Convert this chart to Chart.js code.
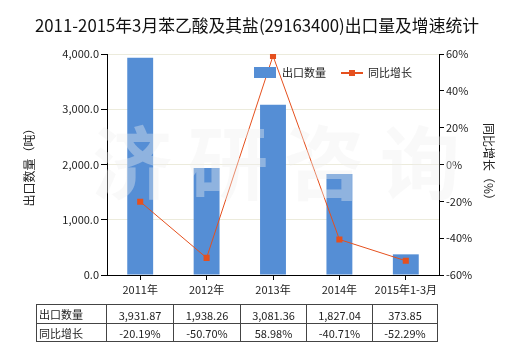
<!DOCTYPE html>
<html>
<head>
<meta charset="utf-8">
<script src="https://cdn.jsdelivr.net/npm/chart.js@4.4.1/dist/chart.umd.min.js"></script>
<style>
  html, body { margin: 0; padding: 0; background: #fff; }
  #wrap { position: relative; width: 520px; height: 350px; overflow: hidden;
          font-family: "Noto Sans CJK SC", "Microsoft YaHei", sans-serif; color: #222; }
  #c { position: absolute; left: 0; top: 0; }
  #title { position: absolute; left: 0; top: 13px; width: 514px; text-align: center;
           font-size: 16.8px; line-height: 24px; white-space: nowrap; color: #111; }
  #legend { position: absolute; left: 0; top: 0; font-size: 11px; }
  .lg { position: absolute; white-space: nowrap; line-height: 14px; }
  #wm { position: absolute; left: 92px; top: 108px; font-size: 80px; line-height: 100px;
        letter-spacing: 16px; font-weight: bold; color: rgba(240,240,240,0.38);
        pointer-events: none; white-space: nowrap; }
  table { position: absolute; left: 36px; top: 304px; border-collapse: collapse;
          font-size: 11px; color: #222; }
  td { border: 1px solid #444; padding: 0; text-align: center; white-space: nowrap; }
  td.h { text-align: left; padding-left: 2px; }
</style>
</head>
<body>
<div id="wrap">
  <canvas id="c" width="520" height="350"></canvas>
  <div id="title">2011-2015年3月苯乙酸及其盐(29163400)出口量及增速统计</div>
  <div id="wm">济研咨询</div>
  <div id="legend"></div>
  <table id="tbl"></table>
</div>
<script>
const categories = ['2011年', '2012年', '2013年', '2014年', '2015年1-3月'];
const exportQty = [3931.87, 1938.26, 3081.36, 1827.04, 373.85];
const growth = [-20.19, -50.70, 58.98, -40.71, -52.29];
const seriesNames = ['出口数量', '同比增长'];
const leftAxisTitle = '出口数量（吨）';
const rightAxisTitle = '同比增长（%）';

const BAR = '#558ED5';
const LINE = '#E5501E';
const FONT = '"Noto Sans CJK SC", "Microsoft YaHei", sans-serif';
Chart.defaults.font.family = FONT;
Chart.defaults.font.size = 11;
Chart.defaults.color = '#222';

new Chart(document.getElementById('c'), {
  type: 'bar',
  data: {
    labels: categories,
    datasets: [
      { type: 'line', label: seriesNames[1], data: growth, yAxisID: 'y1', order: 0,
        borderColor: LINE, backgroundColor: LINE, borderWidth: 1, tension: 0,
        pointStyle: 'rect', pointRadius: 4.3, pointBackgroundColor: LINE, pointBorderWidth: 0 },
      { type: 'bar', label: seriesNames[0], data: exportQty, yAxisID: 'y', order: 1,
        backgroundColor: BAR, categoryPercentage: 1, barPercentage: 0.39 }
    ]
  },
  options: {
    responsive: false, animation: false,
    layout: { padding: { top: 54, left: 0, right: 0, bottom: 0 } },
    plugins: { legend: { display: false }, tooltip: { enabled: false }, title: { display: false } },
    scales: {
      x: {
        offset: true,
        grid: { drawOnChartArea: false, offset: false, tickLength: 5, tickColor: '#000' },
        border: { color: '#000', width: 1 },
        ticks: { padding: 3, color: '#222', maxRotation: 0, autoSkip: false, font: { size: 11 } },
        afterFit: s => { s.height = 75; }
      },
      y: {
        position: 'left', min: 0, max: 4000,
        ticks: { stepSize: 1000, padding: 2, color: '#222', font: { size: 11 },
                 callback: v => v.toLocaleString('en-US', { minimumFractionDigits: 1, maximumFractionDigits: 1 }) },
        grid: { color: '#ECEBDC', tickLength: 6, tickColor: '#000' },
        border: { color: '#000', width: 1 },
        title: { display: true, text: leftAxisTitle, font: { size: 12 }, color: '#222', padding: { top: 22, bottom: 0 } },
        afterFit: s => { s.width = 107; }
      },
      y1: {
        position: 'right', min: -60, max: 60,
        ticks: { stepSize: 20, padding: 2, color: '#222', font: { size: 11 }, callback: v => v + '%' },
        grid: { drawOnChartArea: false, tickLength: 5, tickColor: '#000' },
        border: { color: '#000', width: 1 },
        title: { display: true, text: rightAxisTitle, font: { size: 12 }, color: '#222', padding: { top: 24, bottom: 0 } },
        afterFit: s => { s.width = 81; }
      }
    }
  }
});

// Legend
const lg = document.getElementById('legend');
lg.innerHTML =
  '<div class="lg" style="left:254px;top:67px;width:22px;height:11px;background:' + BAR + '"></div>' +
  '<div class="lg" style="left:282px;top:65px;">' + seriesNames[0] + '</div>' +
  '<div class="lg" style="left:341px;top:72px;width:22px;height:2px;background:' + LINE + '"></div>' +
  '<div class="lg" style="left:349px;top:70px;width:6px;height:6px;background:' + LINE + '"></div>' +
  '<div class="lg" style="left:368px;top:65px;">' + seriesNames[1] + '</div>';

// Data table
const widths = [70, 67, 67, 66, 66, 65];
const fmtQ = v => v.toLocaleString('en-US', { minimumFractionDigits: 2, maximumFractionDigits: 2 });
const fmtG = v => v.toFixed(2) + '%';
let html = '<tr style="height:19px">';
html += '<td class="h" style="width:' + (widths[0]-3) + 'px">' + seriesNames[0] + '</td>';
exportQty.forEach((v, i) => { html += '<td style="width:' + (widths[i+1]-1) + 'px;padding-top:2px">' + fmtQ(v) + '</td>'; });
html += '</tr><tr style="height:16px">';
html += '<td class="h">' + seriesNames[1] + '</td>';
growth.forEach(v => { html += '<td style="padding-top:1px">' + fmtG(v) + '</td>'; });
html += '</tr>';
document.getElementById('tbl').innerHTML = html;
</script>
</body>
</html>
